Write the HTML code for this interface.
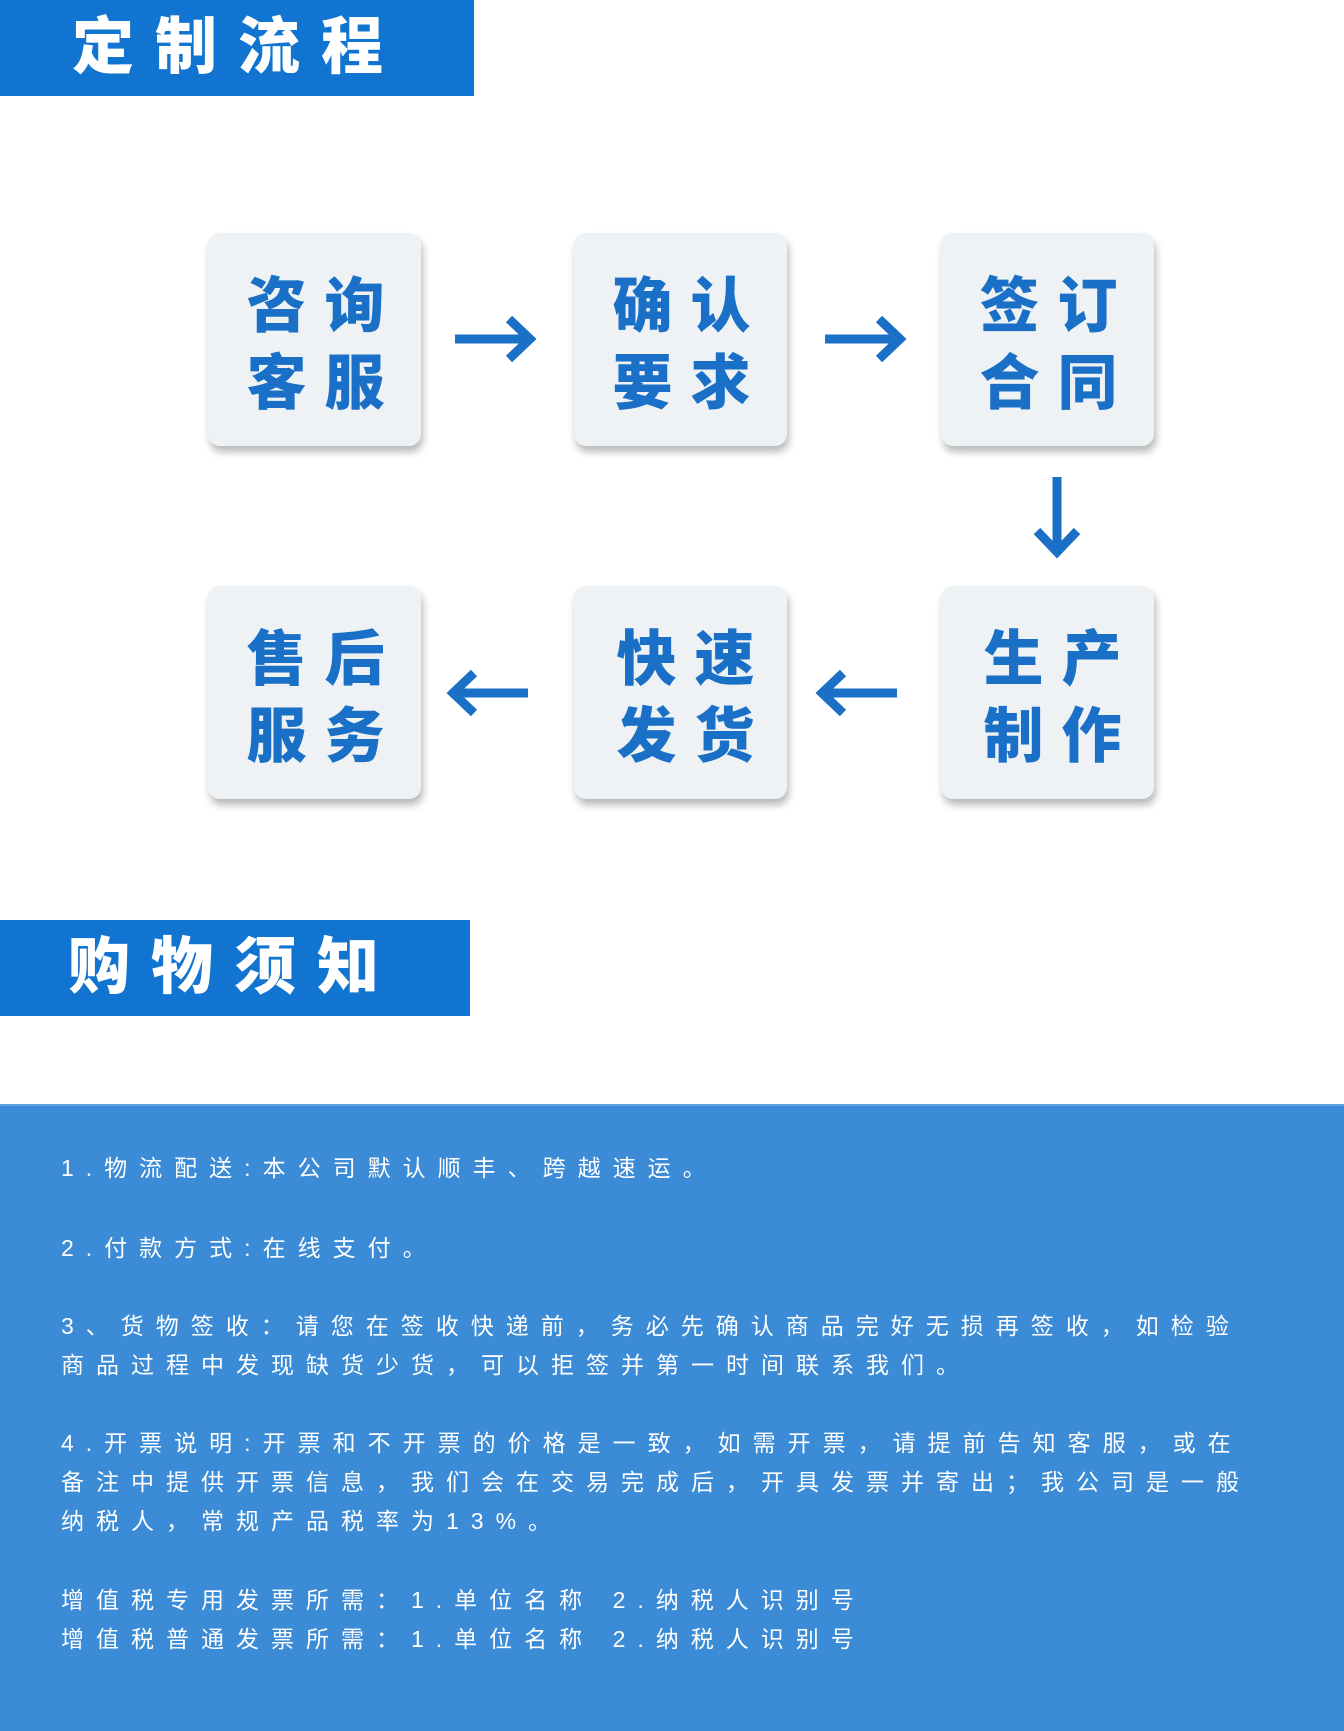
<!DOCTYPE html>
<html><head><meta charset="utf-8"><style>
*{margin:0;padding:0;box-sizing:border-box}
body{width:1344px;height:1731px;background:#fff;position:relative;overflow:hidden;font-family:"Liberation Sans","Noto Sans CJK SC",sans-serif}
.hdr{position:absolute;left:0;background:#1174d0;color:#fff;font-weight:900;font-size:62px;letter-spacing:21px;line-height:96px;padding-left:72px}
.box{position:absolute;width:213px;height:213px;background:#eef2f4;border-radius:12px;box-shadow:2px 6px 8px rgba(0,0,0,0.28);color:#1a6fc6;font-weight:900;font-size:60px;letter-spacing:18px;text-align:center;line-height:77px;padding-top:35px;padding-left:20px}
.panel{position:absolute;left:0;top:1104px;width:1344px;height:627px;background:#3b8bd6;border-top:2px solid #5ea2e0}
.t{position:absolute;left:61px;color:#fff;font-size:23px;letter-spacing:12px;line-height:39px;white-space:nowrap}
svg{position:absolute}
</style></head><body>
<div class="hdr" style="top:0;width:474px;height:96px">定制流程</div>
<div class="hdr" style="top:920px;width:470px;height:96px;padding-left:68px">购物须知</div>

<div class="box" style="left:208px;top:233px">咨询<br>客服</div>
<div class="box" style="left:574px;top:233px">确认<br>要求</div>
<div class="box" style="left:941px;top:233px">签订<br>合同</div>
<div class="box" style="left:208px;top:586px">售后<br>服务</div>
<div class="box" style="left:574px;top:586px;padding-left:28px">快速<br>发货</div>
<div class="box" style="left:941px;top:586px;padding-left:28px">生产<br>制作</div>

<svg width="1344" height="900" style="left:0;top:0" fill="none" stroke="#1a6fc6" stroke-width="9" stroke-linecap="butt">
<path d="M455 339H528M509 319L530 339L509 359"/>
<path d="M825 339H898M879 319L900 339L879 359"/>
<path d="M1057 477V550M1037 531L1057 552L1077 531"/>
<path d="M528 693H455M474 673L453 693L474 713"/>
<path d="M897 693H824M843 673L822 693L843 713"/>
</svg>

<div class="panel"></div>
<div class="t" style="top:1149px">1.物流配送:本公司默认顺丰、跨越速运。</div>
<div class="t" style="top:1229px">2.付款方式:在线支付。</div>
<div class="t" style="top:1307px">3、货物签收：请您在签收快递前，务必先确认商品完好无损再签收，如检验<br>商品过程中发现缺货少货，可以拒签并第一时间联系我们。</div>
<div class="t" style="top:1424px">4.开票说明:开票和不开票的价格是一致，如需开票，请提前告知客服，或在<br>备注中提供开票信息，我们会在交易完成后，开具发票并寄出；我公司是一般<br>纳税人，常规产品税率为13%。</div>
<div class="t" style="top:1581px">增值税专用发票所需：1.单位名称 2.纳税人识别号<br>增值税普通发票所需：1.单位名称 2.纳税人识别号</div>
</body></html>
